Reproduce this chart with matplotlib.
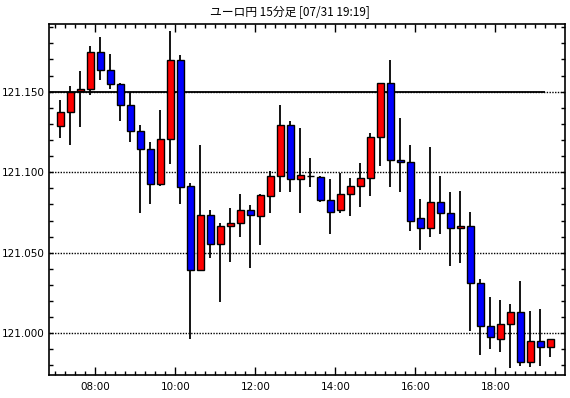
import matplotlib
matplotlib.use("Agg")
import matplotlib.pyplot as plt
from matplotlib.ticker import MultipleLocator, FuncFormatter

# 15-minute EUR/JPY candles, 07:00 .. 19:15
start_hour = 7.0
slot = 0.25  # hours per candle

opens = [121.1285, 121.1372, 121.1502, 121.1514, 121.1744, 121.1632, 121.1545, 121.1415, 121.1254, 121.1143,
         121.0926, 121.1205, 121.1696, 121.0913, 121.0393, 121.0734, 121.0554, 121.0665, 121.0684, 121.0765,
         121.0725, 121.0855, 121.0975, 121.1291, 121.0957, 121.0977, 121.0973, 121.0827, 121.0765, 121.0864,
         121.0913, 121.0963, 121.1217, 121.1552, 121.1074, 121.1062, 121.0715, 121.0653, 121.0814, 121.0746,
         121.0653, 121.0665, 121.0312, 121.0046, 120.9965, 121.0058, 121.0132, 120.9822, 120.9953, 120.9915]
highs = [121.1446, 121.1535, 121.1628, 121.1783, 121.1839, 121.1733, 121.1552, 121.1496, 121.1293, 121.1188,
         121.1386, 121.1878, 121.1727, 121.0934, 121.1169, 121.0767, 121.0686, 121.0779, 121.0866, 121.0798,
         121.0866, 121.1006, 121.1419, 121.1318, 121.1275, 121.1089, 121.0977, 121.0959, 121.0994, 121.0963,
         121.1058, 121.1244, 121.1552, 121.1696, 121.1335, 121.1167, 121.0835, 121.1155, 121.0975, 121.0876,
         121.0884, 121.0752, 121.0339, 121.0227, 121.0209, 121.0184, 121.0327, 121.0136, 121.0149, 120.9967]
lows = [121.1215, 121.1171, 121.1283, 121.1481, 121.1574, 121.1514, 121.1320, 121.1190, 121.0744, 121.0800,
        121.0913, 121.1052, 121.0800, 120.9965, 121.0384, 121.0465, 121.0194, 121.0440, 121.0595, 121.0403,
        121.0545, 121.0748, 121.0880, 121.0880, 121.0748, 121.0911, 121.0814, 121.0614, 121.0744, 121.0731,
        121.0781, 121.0855, 121.1041, 121.0911, 121.0880, 121.0632, 121.0515, 121.0595, 121.0618, 121.0415,
        121.0434, 121.0012, 120.9864, 120.9900, 120.9882, 120.9785, 120.9798, 120.9791, 120.9798, 120.9853]
closes = [121.1372, 121.1500, 121.1514, 121.1744, 121.1632, 121.1545, 121.1415, 121.1254, 121.1143, 121.0926,
          121.1205, 121.1696, 121.0911, 121.0393, 121.0734, 121.0554, 121.0665, 121.0684, 121.0765, 121.0734,
          121.0857, 121.0975, 121.1291, 121.0957, 121.0981, 121.0977, 121.0827, 121.0752, 121.0864, 121.0913,
          121.0963, 121.1217, 121.1552, 121.1074, 121.1062, 121.0700, 121.0653, 121.0814, 121.0744, 121.0653,
          121.0665, 121.0312, 121.0046, 120.9977, 121.0058, 121.0132, 120.9822, 120.9953, 120.9915, 120.9967]

ref_level = 121.150
title = "ユーロ円 15分足 [07/31 19:19]"

plt.rcParams['font.family'] = ['Noto Sans CJK JP', 'DejaVu Sans']

fig = plt.figure(figsize=(5.7, 3.98), dpi=100)
ax = fig.add_axes([49 / 570, 1 - 375 / 398, (565 - 49) / 570, (375 - 24) / 398])

xs = [start_hour + slot / 2 + slot * i for i in range(len(opens))]
colors = ['#ff0000' if c >= o else '#0000ff' for o, c in zip(opens, closes)]

# wicks first, bodies on top
ax.vlines(xs, lows, highs, color='black', lw=1.3, zorder=2)
ax.bar(xs, [c - o for o, c in zip(opens, closes)], bottom=opens, width=0.165,
       color=colors, edgecolor='black', linewidth=1.0, zorder=3)

# reference level
ax.hlines(ref_level, 6.84, 19.24, color='black', lw=1.3, zorder=1)

ax.set_xlim(6.8425, 19.7425)
ax.set_ylim(120.9741, 121.1920)

ax.xaxis.set_major_locator(MultipleLocator(2))
ax.xaxis.set_minor_locator(MultipleLocator(0.25))
ax.xaxis.set_major_formatter(FuncFormatter(lambda v, p: f"{int(round(v)):02d}:00"))
ax.yaxis.set_major_locator(MultipleLocator(0.05))
ax.yaxis.set_minor_locator(MultipleLocator(0.01))
ax.yaxis.set_major_formatter(FuncFormatter(lambda v, p: f"{v:.3f}"))

ax.tick_params(which='both', direction='in', top=True, right=True, width=1, labelsize=7.5,
               colors='black')
ax.tick_params(axis='x', which='major', length=6, pad=5)
ax.tick_params(axis='x', which='minor', length=3)
ax.tick_params(axis='y', which='both', length=3, pad=3)
for lab in ax.get_xticklabels() + ax.get_yticklabels():
    lab.set_family('DejaVu Sans')

ax.grid(axis='y', which='major', color='black', linestyle=(0, (1, 1)), lw=1.0, zorder=0)
for sp in ax.spines.values():
    sp.set_linewidth(1.2)

fig.text(290 / 570, 1 - 12 / 398, title, ha='center', va='center', fontsize=8.5)

fig.savefig('out.png', dpi=100)
